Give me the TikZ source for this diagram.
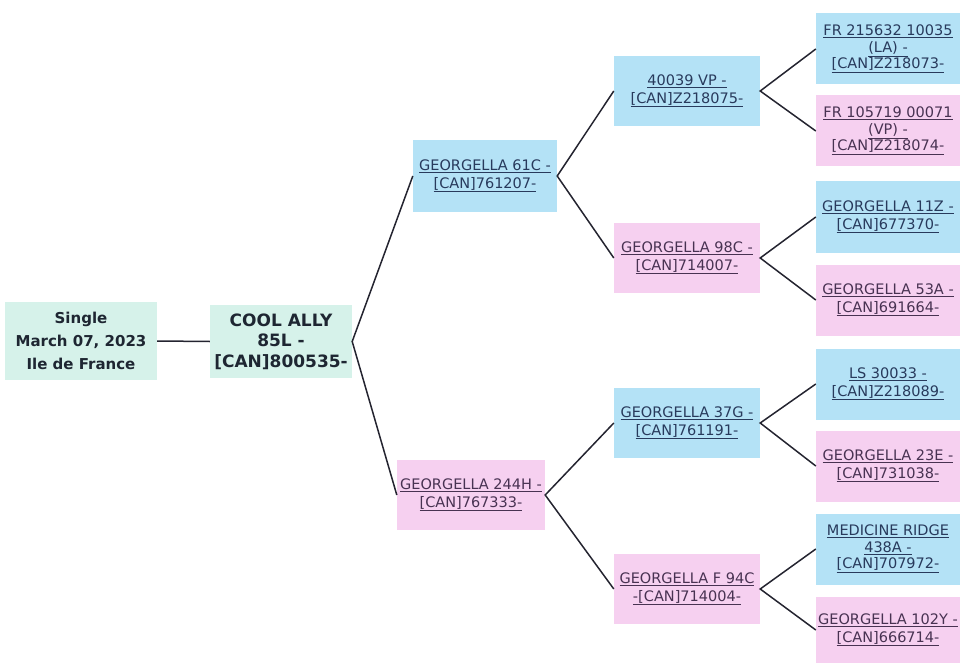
\documentclass[tikz,border=0pt]{standalone}
\usepackage{fontspec}
\setmainfont{DejaVu Sans}
\definecolor{bluebox}{RGB}{180,226,246}
\definecolor{pinkbox}{RGB}{246,208,240}
\definecolor{tealbox}{RGB}{214,242,234}
\definecolor{bluetxt}{RGB}{40,58,92}
\definecolor{pinktxt}{RGB}{72,50,82}
\definecolor{darktxt}{RGB}{30,38,50}
\definecolor{linec}{RGB}{36,36,48}
\newcommand{\ul}[1]{\underline{#1}}
\begin{document}
\begin{tikzpicture}[x=1pt,y=-1pt,
  base/.style={rectangle, inner sep=0pt, align=center},
  bbox/.style={base, fill=bluebox, text=bluetxt, font=\fontsize{14.5}{17.5}\selectfont},
  pbox/.style={base, fill=pinkbox, text=pinktxt, font=\fontsize{14.5}{17.5}\selectfont},
  mid/.style={minimum width=146pt, minimum height=70pt},
  rgt/.style={minimum width=144pt, minimum height=71pt},
  link/.style={draw=linec, line width=1.5pt}
]
\useasboundingbox (0,0) rectangle (961,663);
% root nodes
\node[base, fill=tealbox, text=darktxt, minimum width=152pt, minimum height=78pt,
      font=\bfseries\fontsize{15}{23}\selectfont] (sgl) at (81,341)
      {Single\\March 07, 2023\\Ile de France};
\node[base, fill=tealbox, text=darktxt, minimum width=142pt, minimum height=73pt,
      font=\bfseries\fontsize{17}{20.5}\selectfont] (cool) at (281,341.5)
      {COOL ALLY\\85L -\\{}[CAN]800535-};
% generation 1
\node[bbox, minimum width=144pt, minimum height=72pt] (g61) at (485,176)
      {\ul{GEORGELLA 61C -}\\\ul{[CAN]761207-}};
\node[pbox, minimum width=148pt, minimum height=70pt] (g244) at (471,495)
      {\ul{GEORGELLA 244H -}\\\ul{[CAN]767333-}};
% generation 2
\node[bbox, mid] (v40) at (687,91) {\ul{40039 VP -}\\\ul{[CAN]Z218075-}};
\node[pbox, mid] (g98) at (687,258) {\ul{GEORGELLA 98C -}\\\ul{[CAN]714007-}};
\node[bbox, mid] (g37) at (687,423) {\ul{GEORGELLA 37G -}\\\ul{[CAN]761191-}};
\node[pbox, mid] (g94) at (687,589) {\ul{GEORGELLA F 94C}\\\ul{-[CAN]714004-}};
% generation 3
\node[bbox, rgt, font=\fontsize{14.5}{16.5}\selectfont] (fr1) at (888,49) {\ul{FR 215632 10035}\\\ul{(LA) -}\\\ul{[CAN]Z218073-}};
\node[pbox, rgt, font=\fontsize{14.5}{16.5}\selectfont] (fr2) at (888,131) {\ul{FR 105719 00071}\\\ul{(VP) -}\\\ul{[CAN]Z218074-}};
\node[bbox, rgt] (g11) at (888,217) {\ul{GEORGELLA 11Z -}\\\ul{[CAN]677370-}};
\node[pbox, rgt] (g53) at (888,300) {\ul{GEORGELLA 53A -}\\\ul{[CAN]691664-}};
\node[bbox, rgt] (ls) at (888,384) {\ul{LS 30033 -}\\\ul{[CAN]Z218089-}};
\node[pbox, rgt] (g23) at (888,466) {\ul{GEORGELLA 23E -}\\\ul{[CAN]731038-}};
\node[bbox, rgt, font=\fontsize{14.5}{16.5}\selectfont] (med) at (888,549) {\ul{MEDICINE RIDGE}\\\ul{438A -}\\\ul{[CAN]707972-}};
\node[pbox, rgt, minimum height=66pt] (g102) at (888,630) {\ul{GEORGELLA 102Y -}\\\ul{[CAN]666714-}};
% connectors
\draw[link] (sgl.east) -- (cool.west);
\draw[link] (g61.west) -- (cool.east) -- (g244.west);
\draw[link] (v40.west) -- (g61.east) -- (g98.west);
\draw[link] (g37.west) -- (g244.east) -- (g94.west);
\draw[link] (fr1.west) -- (v40.east) -- (fr2.west);
\draw[link] (g11.west) -- (g98.east) -- (g53.west);
\draw[link] (ls.west) -- (g37.east) -- (g23.west);
\draw[link] (med.west) -- (g94.east) -- (g102.west);
\end{tikzpicture}
\end{document}
